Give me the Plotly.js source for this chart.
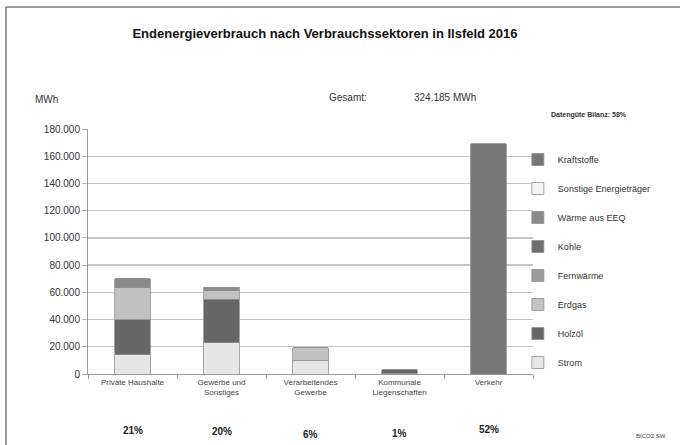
<!DOCTYPE html>
<html><head><meta charset="utf-8">
<script src="https://cdn.plot.ly/plotly-3.0.1.min.js"></script>
<style>html,body{margin:0;padding:0;background:#fff}#chart{width:680px;height:445px}</style>
</head><body><div id="chart"></div>
<script>
const categories = ["Private Haushalte", "Gewerbe und<br>Sonstiges", "Verarbeitendes<br>Gewerbe", "Kommunale<br>Liegenschaften", "Verkehr"];
const strom       = [14000, 22800, 9600, 600, 0];
const holzoel     = [25700, 32300, 0, 2600, 0];
const erdgas      = [23500, 5900, 9600, 0, 0];
const fernwaerme  = [0, 0, 0, 0, 0];
const kohle       = [0, 0, 0, 0, 0];
const waermeEEQ   = [6600, 2900, 0, 0, 0];
const sonstige    = [0, 0, 0, 0, 0];
const kraftstoffe = [0, 0, 0, 0, 169000];
const shares = ["21%", "20%", "6%", "1%", "52%"];
const shareOffsets = [430, 431, 434, 433, 429];
const yTicks = [0, 20000, 40000, 60000, 80000, 100000, 120000, 140000, 160000, 180000];

const series = [
  ["Strom", strom, "#e6e6e6"],
  ["Holzöl", holzoel, "#666666"],
  ["Erdgas", erdgas, "#c2c2c2"],
  ["Fernwärme", fernwaerme, "#9c9c9c"],
  ["Kohle", kohle, "#707070"],
  ["Wärme aus EEQ", waermeEEQ, "#8a8a8a"],
  ["Sonstige Energieträger", sonstige, "#f4f4f4"],
  ["Kraftstoffe", kraftstoffe, "#777777"]
];
const font = "Liberation Sans, Arial, sans-serif";
const traces = series.map((s, i) => ({
  type: "bar", name: s[0], x: categories, y: s[1], legendgroup: "g" + i, legendrank: 1000 - i * 10,
  marker: {color: s[2], line: {color: "#8f8f8f", width: 0.8}},
  hoverinfo: "skip"
}));

const annotations = [
  {text: "MWh", xref: "paper", yref: "paper", x: -0.093, y: (374 - 100) / 245, xanchor: "center", yanchor: "middle", showarrow: false, font: {family: font, size: 10, color: "#333"}},
  {text: "Gesamt:", xref: "paper", yref: "paper", x: (327 - 88) / 445, y: (374 - 97) / 245, xanchor: "left", yanchor: "middle", showarrow: false, font: {family: font, size: 10, color: "#333"}},
  {text: "324.185 MWh", xref: "paper", yref: "paper", x: (412 - 88) / 445, y: (374 - 97) / 245, xanchor: "left", yanchor: "middle", showarrow: false, font: {family: font, size: 10, color: "#333"}},
  {text: "<b>Datengüte Bilanz: 58%</b>", xref: "paper", yref: "paper", x: (549 - 88) / 445, y: (374 - 115) / 245, xanchor: "left", yanchor: "middle", showarrow: false, font: {family: font, size: 7, color: "#333"}},
  {text: "BICO2 SW", xref: "paper", yref: "paper", x: (668 - 88) / 445, y: (374 - 436) / 245, xanchor: "right", yanchor: "middle", showarrow: false, font: {family: font, size: 6, color: "#444"}}
];
categories.forEach((c, i) => annotations.push({
  text: "<b>" + shares[i] + "</b>", x: c, xref: "x", yref: "paper", y: (374 - shareOffsets[i]) / 245,
  xanchor: "center", yanchor: "middle", showarrow: false, font: {family: font, size: 10, color: "#222"}
}));

const layout = {
  width: 680, height: 445,
  margin: {l: 88, r: 147, t: 129, b: 71},
  paper_bgcolor: "#fff", plot_bgcolor: "#fff",
  separators: ",.",
  barmode: "stack", bargap: 0.6,
  font: {family: font, color: "#333"},
  title: {text: "<b>Endenergieverbrauch nach Verbrauchssektoren in Ilsfeld 2016</b>", xref: "container", yref: "container",
          x: 325 / 680, y: 1 - 33 / 445, xanchor: "center", yanchor: "middle", font: {family: font, size: 13, color: "#111"}},
  xaxis: {type: "category", showline: true, linecolor: "#999", linewidth: 1, ticks: "outside", tickson: "boundaries",
          ticklen: 4, tickcolor: "#999", tickfont: {family: font, size: 8, color: "#444"}, showgrid: false, fixedrange: true},
  yaxis: {range: [0, 180000], tickvals: yTicks, tickformat: ",.0f", showline: true, linecolor: "#999", linewidth: 1,
          ticks: "outside", ticklen: 5, tickcolor: "#bbb", gridcolor: "#c4c4c4", gridwidth: 1.3,
          tickfont: {family: font, size: 10, color: "#333"}, zeroline: false, fixedrange: true},
  legend: {traceorder: "grouped", x: 0.966, xanchor: "left", y: (374 - 145) / 245, yanchor: "top",
           tracegroupgap: 10, font: {family: font, size: 9, color: "#333"}, bgcolor: "rgba(0,0,0,0)"},
  annotations: annotations,
  shapes: [
    {type: "line", xref: "paper", yref: "paper", x0: (6 - 88) / 445, x1: (680 - 88) / 445, y0: (374 - 7) / 245, y1: (374 - 7) / 245, line: {color: "#777", width: 1.5}},
    {type: "line", xref: "paper", yref: "paper", x0: (6 - 88) / 445, x1: (6 - 88) / 445, y0: (374 - 7) / 245, y1: (374 - 445) / 245, line: {color: "#777", width: 1.5}}
  ],
  showlegend: true
};
Plotly.newPlot("chart", traces, layout, {displayModeBar: false, staticPlot: true});
</script></body></html>
